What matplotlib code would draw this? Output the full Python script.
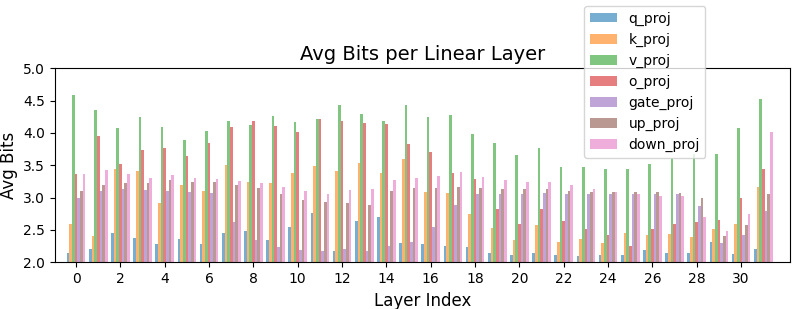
import numpy as np
import matplotlib
matplotlib.use("Agg")
import matplotlib.pyplot as plt

layers = np.arange(32)
names = ["q_proj", "k_proj", "v_proj", "o_proj", "gate_proj", "up_proj", "down_proj"]

q_proj = [2.14, 2.20, 2.46, 2.38, 2.28, 2.36, 2.28, 2.46, 2.48, 2.34, 2.54, 2.77, 2.17, 2.64, 2.70, 2.30,
          2.28, 2.26, 2.23, 2.14, 2.12, 2.14, 2.11, 2.10, 2.11, 2.12, 2.19, 2.14, 2.14, 2.32, 2.13, 2.21]
k_proj = [2.59, 2.40, 3.44, 3.41, 2.91, 3.19, 3.10, 3.51, 3.24, 3.23, 3.38, 3.49, 3.41, 3.53, 3.38, 3.60,
          3.08, 3.07, 2.75, 2.53, 2.34, 2.57, 2.31, 2.36, 2.30, 2.45, 2.42, 2.44, 2.39, 2.51, 2.59, 3.16]
v_proj = [4.58, 4.36, 4.08, 4.24, 4.09, 3.89, 4.03, 4.18, 4.13, 4.26, 4.17, 4.21, 4.44, 4.29, 4.19, 4.43,
          4.25, 4.28, 3.99, 3.84, 3.66, 3.76, 3.47, 3.47, 3.45, 3.45, 3.52, 3.61, 3.68, 3.67, 4.07, 4.52]
o_proj = [3.37, 3.95, 3.52, 3.73, 3.76, 3.65, 3.84, 4.09, 4.19, 4.11, 4.02, 4.21, 4.19, 4.16, 4.14, 3.83,
          3.71, 3.38, 3.29, 2.82, 2.59, 2.82, 2.64, 2.52, 2.43, 2.25, 2.52, 2.59, 2.62, 2.65, 2.99, 3.44]
gate_proj = [3.00, 3.11, 3.13, 3.12, 3.11, 3.08, 3.07, 2.63, 2.34, 2.24, 2.19, 2.17, 2.20, 2.17, 2.25, 2.31,
             2.55, 2.89, 3.05, 3.06, 3.06, 3.07, 3.06, 3.05, 3.05, 3.06, 3.06, 3.06, 2.87, 2.30, 2.42, 2.79]
up_proj = [3.10, 3.19, 3.22, 3.23, 3.28, 3.24, 3.24, 3.19, 3.15, 3.05, 2.97, 2.93, 2.91, 2.89, 3.10, 3.15,
           3.15, 3.16, 3.15, 3.14, 3.13, 3.13, 3.10, 3.09, 3.08, 3.08, 3.08, 3.07, 3.00, 2.41, 2.58, 3.06]
down_proj = [3.37, 3.43, 3.36, 3.30, 3.35, 3.31, 3.29, 3.25, 3.23, 3.17, 3.11, 3.05, 3.12, 3.14, 3.27, 3.31,
             3.33, 3.39, 3.32, 3.28, 3.24, 3.24, 3.19, 3.13, 3.08, 3.05, 3.03, 3.02, 2.70, 2.48, 2.75, 4.01]

series = [q_proj, k_proj, v_proj, o_proj, gate_proj, up_proj, down_proj]

fig = plt.figure(figsize=(7.97, 3.09), dpi=100)
ax = fig.add_axes([0.069, 0.151, 0.922, 0.628])

w = 0.12
for i, (name, vals) in enumerate(zip(names, series)):
    ax.bar(layers + (i - 3) * w, vals, width=w, label=name, alpha=0.6)

ax.set_ylim(2.0, 5.0)
ax.set_xlim(-0.95, 32.2)
ax.set_xticks(np.arange(0, 32, 2))
ax.set_yticks(np.arange(2.0, 5.01, 0.5))
ax.tick_params(labelsize=10)
ax.set_xlabel("Layer Index", fontsize=12)
ax.set_ylabel("Avg Bits", fontsize=12)
ax.set_title("Avg Bits per Linear Layer", fontsize=14)
fig.legend(loc="upper right", bbox_to_anchor=(0.885, 0.981), borderaxespad=0, fontsize=10)

fig.savefig("out.png", dpi=100)
